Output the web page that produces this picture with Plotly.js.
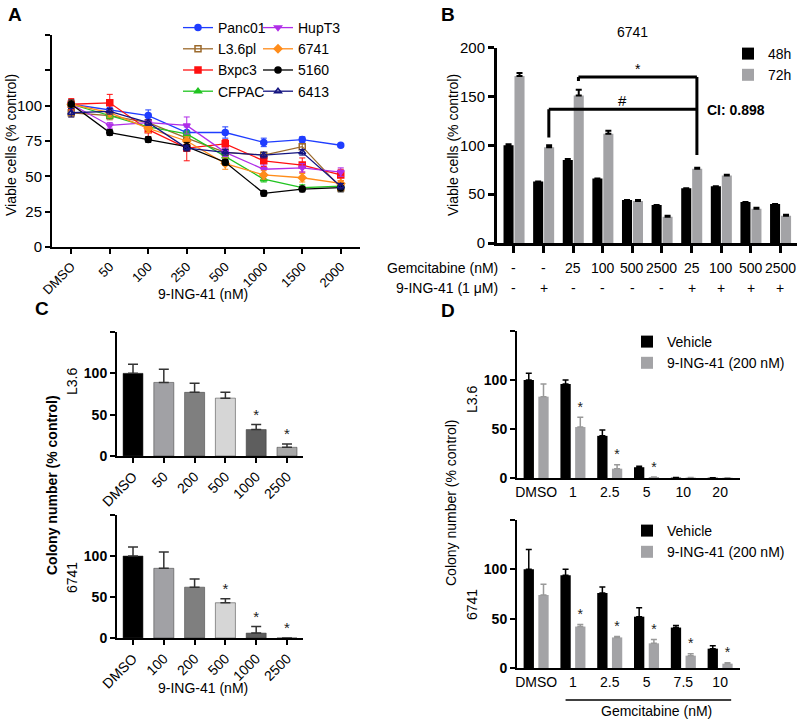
<!DOCTYPE html>
<html>
<head>
<meta charset="utf-8">
<script src="https://cdn.plot.ly/plotly-3.0.1.min.js"></script>
<style>
  body { margin: 0; background: #fff; }
  #fig { width: 800px; height: 723px; }
</style>
</head>
<body>
<div id="fig"></div>
<script>
// ---- Panel A: viability line chart
var doseA = ['DMSO', '50', '100', '250', '500', '1000', '1500', '2000'];
var panc01 = [101, 97, 93, 81, 81, 74, 76, 72];
var panc01Err = [3, 4, 4, 4, 4, 3, 2, 1];
var l36pl = [95, 93, 88, 77, 67, 65, 71, 42];
var l36plErr = [3, 3, 2, 3, 2, 2, 2, 2];
var bxpc3 = [101, 102, 83, 70, 73, 61, 58, 51];
var bxpc3Err = [4, 6, 5, 9, 3, 4, 5, 4];
var cfpac = [101, 93, 85, 80, 64, 48, 42, 43];
var cfpacErr = [2, 2, 2, 2, 2, 2, 2, 2];
var hupt3 = [101, 86, 88, 86, 67, 55, 56, 53];
var hupt3Err = [3, 2, 2, 6, 3, 3, 3, 3];
var l6741 = [101, 95, 84, 75, 59, 51, 49, 45];
var l6741Err = [3, 3, 3, 3, 4, 3, 3, 2];
var l5160 = [101, 81, 76, 71, 60, 38, 41, 42];
var l5160Err = [3, 2, 2, 3, 2, 2, 2, 3];
var l6413 = [95, 96, 88, 70, 67, 65, 67, 43];
var l6413Err = [3, 2, 2, 2, 2, 2, 2, 2];

// ---- Panel B: 6741 combination bars
var gemB = ['-', '-', '25', '100', '500', '2500', '25', '100', '500', '2500'];
var ingB = ['-', '+', '-', '-', '-', '-', '+', '+', '+', '+'];
var h48 = [100, 63, 85, 66, 44, 39, 56, 58, 42, 40];
var h48Err = [1, 0, 1, 0, 0, 0, 0, 0, 0, 0];
var h72 = [171, 98, 151, 112, 43, 27, 76, 69, 35, 28];
var h72Err = [3, 2, 6, 3, 1, 1, 1, 1, 1, 1];

// ---- Panel C: colony number, 9-ING-41 alone
var doseC1 = ['DMSO', '50', '200', '500', '1000', '2500'];
var colL36 = [100, 89, 77, 70, 32, 10.5];
var colL36Err = [11, 16, 11, 7, 6, 4];
var starC1 = [0, 0, 0, 0, 1, 1];
var doseC2 = ['DMSO', '100', '200', '500', '1000', '2500'];
var col6741 = [100, 85, 62, 43, 6, 0];
var col6741Err = [11, 20, 10, 5, 8, 0];
var starC2 = [0, 0, 0, 1, 1, 1];
var grayC = ['#000000', '#a1a1a5', '#7f7f7f', '#d6d6d6', '#5e5e5e', '#a8a8a8'];

// ---- Panel D: colony number, gemcitabine +/- 9-ING-41
var doseD1 = ['DMSO', '1', '2.5', '5', '10', '20'];
var vehD1 = [100, 96, 43, 11, 0.4, 0.3];
var vehD1Err = [7, 4, 6, 1, 0, 0];
var ingD1 = [83, 52, 9.5, 1, 0.4, 0.3];
var ingD1Err = [13, 10, 4, 0, 0, 0];
var starD1 = [0, 1, 1, 1, 0, 0];
var doseD2 = ['DMSO', '1', '2.5', '5', '7.5', '10'];
var vehD2 = [100, 94, 76, 52, 41, 19.6];
var vehD2Err = [20, 6, 6, 9, 2, 3];
var ingD2 = [74, 42, 31, 25, 12.5, 4.4];
var ingD2Err = [11, 2, 1, 4, 2, 1];
var starD2 = [0, 1, 1, 1, 1, 1];

var FONT = 'Liberation Sans, Arial, Helvetica, sans-serif';
function px(x) { return x / 800; }
function py(y) { return 1 - y / 723; }
function idx(arr) { return arr.map(function (d, i) { return i; }); }
function zeros(arr) { return arr.map(function () { return 0; }); }

var traces = [];

// panel A lines
var seriesA = [
  { name: 'Panc01', y: panc01, err: panc01Err, color: '#1f3dff', symbol: 'circle', legend: 'legend' },
  { name: 'L3.6pl', y: l36pl, err: l36plErr, color: '#9c6a2c', symbol: 'square-open', legend: 'legend' },
  { name: 'Bxpc3', y: bxpc3, err: bxpc3Err, color: '#ff1010', symbol: 'square', legend: 'legend' },
  { name: 'CFPAC', y: cfpac, err: cfpacErr, color: '#20c420', symbol: 'triangle-up', legend: 'legend' },
  { name: 'HupT3', y: hupt3, err: hupt3Err, color: '#b02ee8', symbol: 'triangle-down', legend: 'legend2' },
  { name: '6741', y: l6741, err: l6741Err, color: '#ff8c1a', symbol: 'diamond', legend: 'legend2' },
  { name: '5160', y: l5160, err: l5160Err, color: '#000000', symbol: 'circle', legend: 'legend2' },
  { name: '6413', y: l6413, err: l6413Err, color: '#141480', symbol: 'triangle-up-open', legend: 'legend2' }
];
seriesA.forEach(function (s) {
  traces.push({
    type: 'scatter', mode: 'lines+markers', name: s.name, legend: s.legend,
    x: idx(doseA), y: s.y, xaxis: 'x', yaxis: 'y',
    line: { color: s.color, width: 1.3 },
    marker: { color: s.color, symbol: s.symbol, size: 6, line: { color: s.color, width: 1.5 } },
    error_y: { type: 'data', array: s.err, color: s.color, thickness: 1, width: 3 }
  });
});

// panel B bars
traces.push({
  type: 'bar', name: '48h', legend: 'legend3', x: idx(h48), y: h48, xaxis: 'x2', yaxis: 'y2',
  width: 0.34, offset: -0.35, marker: { color: '#000000' },
  error_y: { type: 'data', array: h48Err, arrayminus: zeros(h48), symmetric: false, color: '#000', thickness: 2, width: 3 }
});
traces.push({
  type: 'bar', name: '72h', legend: 'legend3', x: idx(h72), y: h72, xaxis: 'x2', yaxis: 'y2',
  width: 0.34, offset: 0.02, marker: { color: '#a3a3a6' },
  error_y: { type: 'data', array: h72Err, arrayminus: zeros(h72), symmetric: false, color: '#000', thickness: 2, width: 3 }
});

// panel C bars
function colonyBars(vals, err, stars, xa, ya) {
  traces.push({
    type: 'bar', x: idx(vals), y: vals, xaxis: xa, yaxis: ya, showlegend: false,
    width: 0.65, marker: { color: grayC, line: { color: '#333', width: 0.5 } },
    error_y: { type: 'data', array: err, arrayminus: zeros(vals), symmetric: false, color: '#333', thickness: 1.5, width: 5 }
  });
  var sx = [], sy = [];
  stars.forEach(function (f, i) { if (f) { sx.push(i); sy.push(vals[i] + err[i] + 1); } });
  traces.push({
    type: 'scatter', mode: 'text', x: sx, y: sy, text: sx.map(function () { return '*'; }),
    textposition: 'top center', textfont: { size: 15, color: '#222' },
    xaxis: xa, yaxis: ya, showlegend: false
  });
}
colonyBars(colL36, colL36Err, starC1, 'x3', 'y3');
colonyBars(col6741, col6741Err, starC2, 'x4', 'y4');

// panel D bars
function comboBars(veh, vehErr, ing, ingErr, stars, xa, ya, leg) {
  traces.push({
    type: 'bar', name: 'Vehicle', legend: leg, x: idx(veh), y: veh, xaxis: xa, yaxis: ya,
    width: 0.28, offset: -0.34, marker: { color: '#000000' },
    error_y: { type: 'data', array: vehErr, arrayminus: zeros(veh), symmetric: false, color: '#000', thickness: 1.5, width: 3 }
  });
  traces.push({
    type: 'bar', name: '9-ING-41 (200 nM)', legend: leg, x: idx(ing), y: ing, xaxis: xa, yaxis: ya,
    width: 0.28, offset: 0.06, marker: { color: '#a3a3a6' },
    error_y: { type: 'data', array: ingErr, arrayminus: zeros(ing), symmetric: false, color: '#999', thickness: 1.5, width: 3 }
  });
  var sx = [], sy = [];
  stars.forEach(function (f, i) { if (f) { sx.push(i + 0.2); sy.push(ing[i] + ingErr[i] + 2); } });
  traces.push({
    type: 'scatter', mode: 'text', x: sx, y: sy, text: sx.map(function () { return '*'; }),
    textposition: 'top center', textfont: { size: 14, color: '#222' },
    xaxis: xa, yaxis: ya, showlegend: false
  });
}
comboBars(vehD1, vehD1Err, ingD1, ingD1Err, starD1, 'x5', 'y5', 'legend4');
comboBars(vehD2, vehD2Err, ingD2, ingD2Err, starD2, 'x6', 'y6', 'legend5');

// axes
function ax(o) {
  var base = {
    showline: true, linecolor: '#000', linewidth: 2, ticks: 'outside', tickcolor: '#000',
    tickwidth: 2, ticklen: 5, showgrid: false, zeroline: false, fixedrange: true,
    tickfont: { family: FONT, size: 14, color: '#000' }
  };
  for (var k in o) base[k] = o[k];
  return base;
}
var boldTicks = { family: FONT, size: 14, color: '#000', weight: 'bold' };

function legendAt(x, y, size) {
  return {
    x: px(x), y: py(y), xanchor: 'left', yanchor: 'top', bgcolor: 'rgba(0,0,0,0)',
    font: { family: FONT, size: size, color: '#000' }, itemwidth: 30, tracegroupgap: 0
  };
}

var annotations = [];
function ann(text, x, y, o) {
  var a = {
    text: text, x: px(x), y: py(y), xref: 'paper', yref: 'paper', showarrow: false,
    xanchor: 'center', yanchor: 'middle', font: { family: FONT, size: 14, color: '#000' }
  };
  for (var k in (o || {})) a[k] = o[k];
  annotations.push(a);
}
var letter = { family: FONT, size: 19, color: '#000', weight: 'bold' };
ann('A', 15, 14, { font: letter });
ann('B', 448, 14, { font: letter });
ann('C', 42, 308, { font: letter });
ann('D', 448, 310, { font: letter });

// axis titles
ann('Viable cells (% control)', 11, 145, { textangle: -90 });
ann('9-ING-41 (nM)', 203, 294);
ann('Viable cells (% control)', 453, 145, { textangle: -90 });
ann('6741', 632, 32);
ann('CI: 0.898', 705, 110, { xanchor: 'left', font: { family: FONT, size: 14, color: '#000', weight: 'bold' } });
ann('Gemcitabine (nM)', 500, 268, { xanchor: 'right' });
ann('9-ING-41 (1 \u03bcM)', 500, 288, { xanchor: 'right' });
gemB.forEach(function (t, i) {
  annotations.push({ text: t, x: i, xref: 'x2', y: py(268), yref: 'paper', showarrow: false,
    yanchor: 'middle', font: { family: FONT, size: 14, color: '#000' } });
});
ingB.forEach(function (t, i) {
  annotations.push({ text: t, x: i, xref: 'x2', y: py(288), yref: 'paper', showarrow: false,
    yanchor: 'middle', font: { family: FONT, size: 14, color: '#000' } });
});
annotations.push({ text: '*', x: 4.18, xref: 'x2', y: 178, yref: 'y2', showarrow: false,
  font: { family: FONT, size: 14, color: '#000' } });
annotations.push({ text: '#', x: 3.68, xref: 'x2', y: 146, yref: 'y2', showarrow: false,
  font: { family: FONT, size: 15, color: '#000' } });

var boldTitle = { family: FONT, size: 14, color: '#000', weight: 'bold' };
ann('Colony number (% control)', 52, 485, { textangle: -90, font: boldTitle });
ann('L3.6', 72, 382, { textangle: -90 });
ann('6741', 72, 578, { textangle: -90 });
ann('9-ING-41 (nM)', 203, 688);
ann('Colony number (% control)', 451, 503, { textangle: -90 });
ann('L3.6', 472, 400, { textangle: -90 });
ann('6741', 472, 605, { textangle: -90 });
ann('Gemcitabine (nM)', 656, 711);

var bLine = { color: '#000', width: 3 };
var shapes = [
  { type: 'line', xref: 'x2', yref: 'y2', x0: 2.18, x1: 6.18, y0: 170, y1: 170, line: bLine },
  { type: 'line', xref: 'x2', yref: 'y2', x0: 2.18, x1: 2.18, y0: 170, y1: 166, line: bLine },
  { type: 'line', xref: 'x2', yref: 'y2', x0: 1.18, x1: 6.18, y0: 137, y1: 137, line: bLine },
  { type: 'line', xref: 'x2', yref: 'y2', x0: 1.18, x1: 1.18, y0: 137, y1: 108, line: bLine },
  { type: 'line', xref: 'x2', yref: 'y2', x0: 6.18, x1: 6.18, y0: 170, y1: 90, line: bLine },
  { type: 'line', xref: 'x6', yref: 'paper', x0: 0.8, x1: 5.3, y0: py(700), y1: py(700),
    line: { color: '#000', width: 1.5 } }
];

var layout = {
  width: 800, height: 723, margin: { l: 0, r: 0, t: 0, b: 0 },
  paper_bgcolor: '#fff', plot_bgcolor: 'rgba(0,0,0,0)',
  font: { family: FONT, color: '#000' },
  barmode: 'overlay',
  xaxis: ax({ domain: [px(52), px(360)], range: [-0.5, 7.5], anchor: 'y',
    tickvals: idx(doseA), ticktext: doseA, tickangle: -45,
    tickfont: { family: FONT, size: 13, color: '#000' } }),
  yaxis: ax({ domain: [py(247), py(35)], range: [0, 150], anchor: 'x',
    tickvals: [0, 25, 50, 75, 100, 125, 150], ticktext: ['0', '25', '50', '75', '100', '', ''],
    tickfont: { family: FONT, size: 15, color: '#000' } }),
  xaxis2: ax({ domain: [px(497), px(797)], range: [-0.57, 9.56], anchor: 'y2',
    tickvals: idx(gemB), ticktext: gemB.map(function () { return ''; }),
    linewidth: 3, tickwidth: 3, ticklen: 7 }),
  yaxis2: ax({ domain: [py(243), py(47.7)], range: [0, 200], anchor: 'x2',
    tickvals: [0, 50, 100, 150, 200], linewidth: 3, tickwidth: 3, ticklen: 6,
    tickfont: { family: FONT, size: 15, color: '#000' } }),
  xaxis3: ax({ domain: [px(117), px(303)], range: [-0.52, 5.52], anchor: 'y3',
    tickvals: idx(doseC1), ticktext: doseC1, tickangle: -45 }),
  yaxis3: ax({ domain: [py(456), py(332)], range: [0, 150], anchor: 'x3',
    tickvals: [0, 50, 100, 150], ticktext: ['0', '50', '100', ''], tickfont: boldTicks }),
  xaxis4: ax({ domain: [px(117), px(303)], range: [-0.52, 5.52], anchor: 'y4',
    tickvals: idx(doseC2), ticktext: doseC2, tickangle: -45 }),
  yaxis4: ax({ domain: [py(638), py(515)], range: [0, 150], anchor: 'x4',
    tickvals: [0, 50, 100, 150], ticktext: ['0', '50', '100', ''], tickfont: boldTicks }),
  xaxis5: ax({ domain: [px(517), px(740)], range: [-0.52, 5.54], anchor: 'y5',
    tickvals: idx(doseD1), ticktext: doseD1, ticks: '', tickangle: 0 }),
  yaxis5: ax({ domain: [py(478), py(331)], range: [0, 150], anchor: 'x5',
    tickvals: [0, 50, 100, 150], ticktext: ['0', '50', '100', ''], tickfont: boldTicks }),
  xaxis6: ax({ domain: [px(517), px(740)], range: [-0.52, 5.54], anchor: 'y6',
    tickvals: idx(doseD2), ticktext: doseD2, ticks: '', tickangle: 0 }),
  yaxis6: ax({ domain: [py(668), py(520)], range: [0, 150], anchor: 'x6',
    tickvals: [0, 50, 100, 150], ticktext: ['0', '50', '100', ''], tickfont: boldTicks }),
  legend: legendAt(178, 12, 14),
  legend2: legendAt(258, 12, 14),
  legend3: legendAt(728, 38, 14),
  legend4: legendAt(627, 326, 14),
  legend5: legendAt(627, 515, 14),
  annotations: annotations,
  shapes: shapes
};

Plotly.newPlot('fig', traces, layout, { displayModeBar: false, staticPlot: true });
</script>
</body>
</html>
